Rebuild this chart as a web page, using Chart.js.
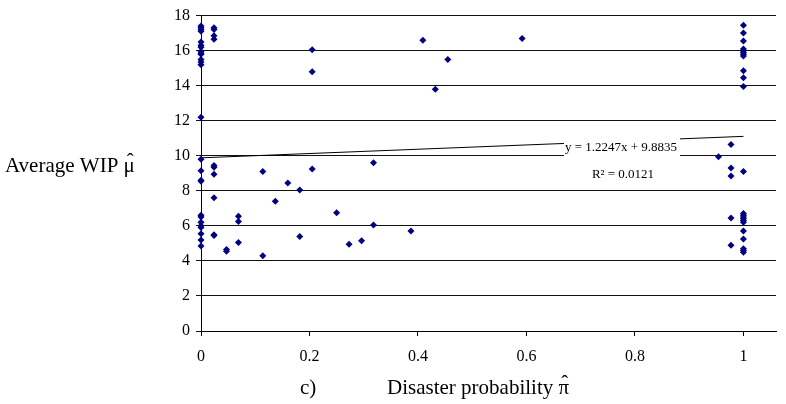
<!DOCTYPE html>
<html>
<head>
<meta charset="utf-8">
<script src="https://cdn.jsdelivr.net/npm/chart.js@4.4.0/dist/chart.umd.min.js"></script>
<style>
  html, body { margin: 0; padding: 0; background: #fff; }
  #wrap { width: 786px; height: 404px; position: relative; }
</style>
</head>
<body>
<div id="wrap"><canvas id="chart" width="786" height="404"></canvas></div>
<script>
// disaster probability (x) and average WIP (y)
const probability = [
  0, 0, 0, 0, 0, 0, 0, 0, 0, 0, 0, 0, 0, 0, 0, 0, 0, 0, 0, 0, 0, 0, 0, 0, 0, 0,
  0.024, 0.024, 0.024, 0.024, 0.024, 0.024, 0.024, 0.024, 0.024, 0.024,
  0.047, 0.047,
  0.069, 0.069, 0.069,
  0.114, 0.114,
  0.137, 0.160, 0.182, 0.182,
  0.205, 0.205, 0.205,
  0.250, 0.273, 0.296, 0.318, 0.318, 0.387,
  0.409, 0.432, 0.455, 0.592,
  0.954,
  0.977, 0.977, 0.977, 0.977, 0.977,
  1, 1, 1, 1, 1, 1, 1, 1, 1, 1, 1, 1, 1, 1, 1, 1, 1, 1, 1, 1, 1, 1, 1
];
const wip = [
  17.4, 17.3, 17.2, 17.1, 16.5, 16.3, 16.2, 15.95, 15.85, 15.8, 15.5, 15.35, 15.2, 12.2, 9.8, 9.15, 8.6, 8.55, 6.6, 6.5, 6.2, 6.0, 5.9, 5.55, 5.2, 4.85,
  17.3, 17.2, 16.85, 16.65, 9.45, 9.35, 8.95, 7.6, 5.5, 5.45,
  4.65, 4.55,
  6.55, 6.25, 5.05,
  9.1, 4.3,
  7.4, 8.45, 8.05, 5.4,
  16.05, 14.8, 9.25,
  6.75, 4.95, 5.15, 9.6, 6.05, 5.7,
  16.6, 13.8, 15.5, 16.7,
  9.95,
  10.65, 9.3, 8.85, 6.45, 4.9,
  17.45, 17.0, 16.55, 16.1, 16.0, 15.9, 15.8, 15.7, 14.85, 14.45, 13.95, 9.1, 6.7, 6.6, 6.5, 6.4, 6.3, 6.2, 5.7, 5.25, 4.7, 4.6, 4.5
];

const xTickValues = [0, 0.2, 0.4, 0.6, 0.8, 1];

// linear trend line shown on the chart
const trendSlope = 1.2247;
const trendIntercept = 9.8835;
const trendLabel = ["y = 1.2247x + 9.8835", "R\u00b2 = 0.0121"];

const xTitle = "Disaster probability \u03c0";
const yTitle = "Average WIP \u03bc";
const panelLabel = "c)";

const points = probability.map((p, i) => ({ x: p, y: wip[i] }));
const trend = [0, 1].map((x) => ({ x: x, y: trendSlope * x + trendIntercept }));

const serif = "'Liberation Serif', 'Times New Roman', serif";

// text with a hat over its last letter
function hatText(ctx, text, x, y) {
  ctx.textAlign = "left";
  ctx.fillText(text, x, y);
  const full = ctx.measureText(text).width;
  const last = ctx.measureText(text.slice(-1)).width;
  ctx.textAlign = "center";
  ctx.fillText("\u02c6", x + full - last / 2 + 1, y - 4);
}

const textPlugin = {
  id: "texts",
  afterDraw(chart) {
    const ctx = chart.ctx;
    ctx.save();
    ctx.fillStyle = "#000";
    ctx.textBaseline = "middle";

    ctx.font = "21px " + serif;
    hatText(ctx, yTitle, 5, 166);

    ctx.textAlign = "left";
    ctx.fillText(panelLabel, 300, 388);
    hatText(ctx, xTitle, 387, 388);

    // trend equation box
    ctx.fillStyle = "#fff";
    ctx.fillRect(564, 137, 116, 47);
    ctx.fillStyle = "#000";
    ctx.font = "13px " + serif;
    ctx.textAlign = "center";
    ctx.fillText(trendLabel[0], 621, 148);
    ctx.fillText(trendLabel[1], 623, 175);
    ctx.restore();
  }
};

new Chart(document.getElementById("chart"), {
  type: "scatter",
  plugins: [textPlugin],
  data: {
    datasets: [
      {
        data: points,
        pointStyle: "rectRot",
        pointRadius: 3.5,
        pointBorderWidth: 0,
        backgroundColor: "#000080",
        borderColor: "#000080",
        clip: false,
        order: 1
      },
      {
        type: "line",
        data: trend,
        borderColor: "#000",
        borderWidth: 1,
        pointRadius: 0,
        fill: false,
        order: 2
      }
    ]
  },
  options: {
    responsive: false,
    animation: false,
    layout: { padding: { left: 0, right: 10, top: 13, bottom: 0 } },
    plugins: {
      legend: { display: false },
      tooltip: { enabled: false }
    },
    scales: {
      x: {
        type: "linear",
        min: 0,
        max: 1.06,
        afterFit: (scale) => { scale.height = 73; },
        afterBuildTicks: (scale) => {
          scale.ticks = xTickValues.map((v) => ({ value: v }));
        },
        ticks: {
          color: "#000",
          padding: 11,
          maxRotation: 0,
          callback: (v) => String(v),
          font: { family: serif, size: 16 }
        },
        grid: { drawOnChartArea: false, drawTicks: true, tickLength: 5, color: "#000" },
        border: { display: true, color: "#000", width: 1 }
      },
      y: {
        min: 0,
        max: 18,
        afterFit: (scale) => { scale.width = 201; },
        ticks: {
          stepSize: 2,
          color: "#000",
          padding: 6,
          font: { family: serif, size: 16 }
        },
        grid: { color: "#111", lineWidth: 1, tickLength: 5 },
        border: { display: true, color: "#000", width: 1 }
      }
    }
  }
});
</script>
</body>
</html>
